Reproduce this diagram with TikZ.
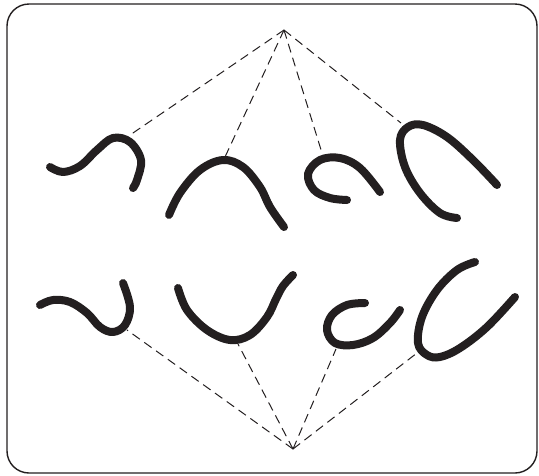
\documentclass[tikz,border=0pt]{standalone}
\begin{document}
\begin{tikzpicture}[x=1pt,y=-1pt,
  wormline/.style={draw=ink,line width=8pt,line cap=round,line join=round},
  linkline/.style={draw=ink,line width=1pt,dash pattern=on 9pt off 5.5pt},
  framebox/.style={draw=ink,line width=1.4pt,rounded corners=22pt}]
\definecolor{ink}{HTML}{231F20}
\useasboundingbox (0,0) rectangle (539,475);
\draw[framebox] (7,4) rectangle (537,473);
% apexes and attachment points
\coordinate (top) at (284,30);
\coordinate (bot) at (293,449);
\coordinate (a1) at (130,135);
\coordinate (a2) at (225,157);
\coordinate (a3) at (322,153);
\coordinate (a4) at (401,123);
\coordinate (b1) at (127,330);
\coordinate (b2) at (238,344);
\coordinate (b3) at (336,349);
\coordinate (b4) at (417,353);
% dashed connectors
\foreach \p in {a1,a2,a3,a4} \draw[linkline] (top) -- (\p);
\foreach \p in {b1,b2,b3,b4} \draw[linkline] (bot) -- (\p);
% top row curves
\draw[wormline] plot[smooth,tension=0.6] coordinates {(50,167) (63,172) (80,166) (97,150) (113,138) (130,142) (141,160) (137,180) (133,188)};
\draw[wormline] plot[smooth,tension=0.6] coordinates {(169,215) (180,193) (200,170) (223,160) (243,167) (260,187) (270,207) (284,227)};
\draw[wormline] plot[smooth,tension=0.6] coordinates {(347,200) (330,198) (314,190) (308,174) (320,160) (340,158) (360,168) (380,192)};
\draw[wormline] plot[smooth,tension=0.6] coordinates {(457,218) (440,213) (420,193) (405,167) (400,140) (408,127) (423,125) (447,137) (473,160) (497,185)};
% bottom row curves
\draw[wormline] plot[smooth,tension=0.6] coordinates {(40,305) (53,300) (70,302) (87,313) (100,327) (113,332) (125,325) (130,307) (123,283)};
\draw[wormline] plot[smooth,tension=0.6] coordinates {(178,288) (187,310) (207,330) (230,340) (250,335) (267,317) (276,299) (283,286) (293,275)};
\draw[wormline] plot[smooth,tension=0.6] coordinates {(365,303) (347,305) (332,315) (327,330) (335,343) (353,345) (373,338) (390,323) (400,310)};
\draw[wormline] plot[smooth,tension=0.6] coordinates {(475,262) (457,270) (437,290) (422,317) (418,343) (427,355) (440,357) (460,348) (487,327) (515,297)};
\end{tikzpicture}
\end{document}
